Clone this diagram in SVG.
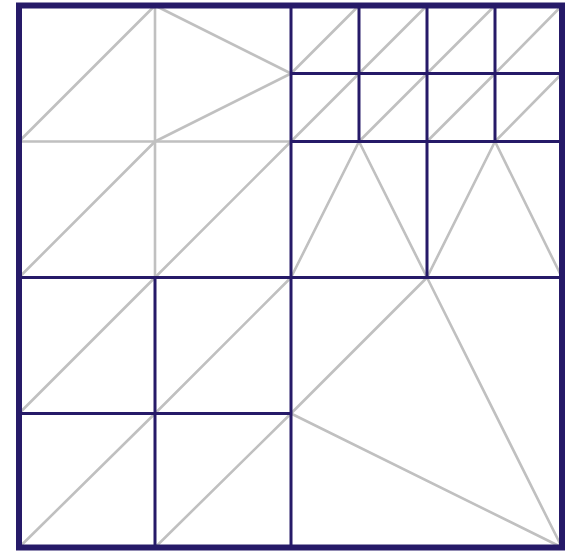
<svg xmlns="http://www.w3.org/2000/svg" width="568" height="552" viewBox="0 0 568 552">
<style>
.g{stroke:#c0c0c0;stroke-width:2.6;fill:none;stroke-linecap:round}
.n{stroke:#261a68;stroke-width:3;fill:none}
.b{stroke:#261a68;stroke-width:6;fill:none}
</style>
<rect width="568" height="552" fill="#ffffff"/>
<g id="triangles" class="g">
<line x1="155" y1="5.5" x2="155" y2="277.5"/>
<line x1="19" y1="141.5" x2="291" y2="141.5"/>
<line x1="19" y1="141.5" x2="155" y2="5.5"/>
<line x1="155" y1="5.5" x2="291" y2="73.5"/>
<line x1="155" y1="141.5" x2="291" y2="73.5"/>
<line x1="19" y1="277.5" x2="155" y2="141.5"/>
<line x1="155" y1="277.5" x2="291" y2="141.5"/>
<line x1="291" y1="73.5" x2="359" y2="5.5"/>
<line x1="359" y1="73.5" x2="427" y2="5.5"/>
<line x1="427" y1="73.5" x2="495" y2="5.5"/>
<line x1="495" y1="73.5" x2="562" y2="5.5"/>
<line x1="291" y1="141.5" x2="359" y2="73.5"/>
<line x1="359" y1="141.5" x2="427" y2="73.5"/>
<line x1="427" y1="141.5" x2="495" y2="73.5"/>
<line x1="495" y1="141.5" x2="562" y2="73.5"/>
<line x1="359" y1="141.5" x2="291" y2="277.5"/>
<line x1="359" y1="141.5" x2="427" y2="277.5"/>
<line x1="495" y1="141.5" x2="427" y2="277.5"/>
<line x1="495" y1="141.5" x2="562" y2="277.5"/>
<line x1="19" y1="413.5" x2="155" y2="277.5"/>
<line x1="155" y1="413.5" x2="291" y2="277.5"/>
<line x1="19" y1="547.5" x2="155" y2="413.5"/>
<line x1="155" y1="547.5" x2="291" y2="413.5"/>
<line x1="291" y1="413.5" x2="427" y2="277.5"/>
<line x1="427" y1="277.5" x2="562" y2="547.5"/>
<line x1="291" y1="413.5" x2="562" y2="547.5"/>
</g>
<g id="cells" class="n">
<line x1="291" y1="5.5" x2="291" y2="547.5"/>
<line x1="19" y1="277.5" x2="562" y2="277.5"/>
<line x1="291" y1="73.5" x2="562" y2="73.5"/>
<line x1="291" y1="141.5" x2="562" y2="141.5"/>
<line x1="359" y1="5.5" x2="359" y2="141.5"/>
<line x1="495" y1="5.5" x2="495" y2="141.5"/>
<line x1="427" y1="5.5" x2="427" y2="277.5"/>
<line x1="155" y1="277.5" x2="155" y2="547.5"/>
<line x1="19" y1="413.5" x2="291" y2="413.5"/>
</g>
<g id="border">
<rect class="b" x="19" y="5.5" width="543" height="542"/>
</g>
</svg>
